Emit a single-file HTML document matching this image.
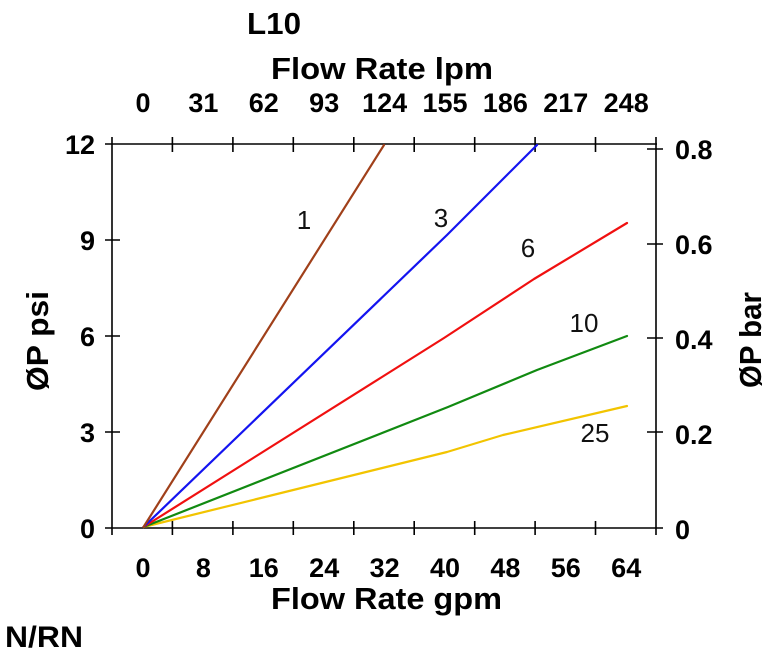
<!DOCTYPE html>
<html><head><meta charset="utf-8"><style>
html,body{margin:0;padding:0;background:#fff;}
svg{display:block;}
text{font-family:"Liberation Sans",Arial,sans-serif;}
.b{font-weight:bold;fill:#000;}
</style></head><body>
<svg width="778" height="648" viewBox="0 0 778 648" xmlns="http://www.w3.org/2000/svg">
<rect width="778" height="648" fill="#fff"/>
<!-- titles -->
<text class="b" x="247" y="34" font-size="31" textLength="54" lengthAdjust="spacingAndGlyphs">L10</text>
<text class="b" x="271" y="79" font-size="31" textLength="222" lengthAdjust="spacingAndGlyphs">Flow Rate lpm</text>
<!-- top tick labels -->
<g font-size="27" text-anchor="middle">
<text x="143" y="112" class="b">0</text>
<text x="203.4" y="112" class="b">31</text>
<text x="263.8" y="112" class="b">62</text>
<text x="324.2" y="112" class="b">93</text>
<text x="384.6" y="112" class="b">124</text>
<text x="445" y="112" class="b">155</text>
<text x="505.4" y="112" class="b">186</text>
<text x="565.8" y="112" class="b">217</text>
<text x="626.2" y="112" class="b">248</text>
</g>
<!-- bottom tick labels -->
<g font-size="27" text-anchor="middle">
<text x="143" y="577" class="b">0</text>
<text x="203.4" y="577" class="b">8</text>
<text x="263.8" y="577" class="b">16</text>
<text x="324.2" y="577" class="b">24</text>
<text x="384.6" y="577" class="b">32</text>
<text x="445" y="577" class="b">40</text>
<text x="505.4" y="577" class="b">48</text>
<text x="565.8" y="577" class="b">56</text>
<text x="626.2" y="577" class="b">64</text>
</g>
<text class="b" x="271" y="609" font-size="31" textLength="231" lengthAdjust="spacingAndGlyphs">Flow Rate gpm</text>
<text class="b" x="5" y="647" font-size="30" textLength="78" lengthAdjust="spacingAndGlyphs">N/RN</text>
<!-- left tick labels -->
<g font-size="27" text-anchor="end">
<text x="95" y="154" class="b">12</text>
<text x="95" y="250" class="b">9</text>
<text x="95" y="346" class="b">6</text>
<text x="95" y="442" class="b">3</text>
<text x="95" y="538" class="b">0</text>
</g>
<!-- right tick labels -->
<g font-size="27" text-anchor="start">
<text x="675" y="159" class="b">0.8</text>
<text x="675" y="254" class="b">0.6</text>
<text x="675" y="349" class="b">0.4</text>
<text x="675" y="444" class="b">0.2</text>
<text x="675" y="539" class="b">0</text>
</g>
<!-- axis titles -->
<text class="b" font-size="31" text-anchor="middle" transform="translate(48,341) rotate(-90)" textLength="100" lengthAdjust="spacingAndGlyphs">ØP psi</text>
<text class="b" font-size="31" text-anchor="middle" transform="translate(761,340) rotate(-90)" textLength="96" lengthAdjust="spacingAndGlyphs">ØP bar</text>
<!-- axes -->
<g stroke="#000" stroke-width="1.6" fill="none">
<line x1="105" y1="144" x2="657" y2="144"/>
<line x1="105" y1="528" x2="663" y2="528"/>
<line x1="112" y1="137" x2="112" y2="535"/>
<line x1="656" y1="137" x2="656" y2="535"/>
<path d="M172.4 137V152 M232.9 137V152 M293.3 137V152 M353.8 137V152 M414.2 137V152 M474.7 137V152 M535.1 137V152 M595.5 137V152"/>
<path d="M172.4 521V535 M232.9 521V535 M293.3 521V535 M353.8 521V535 M414.2 521V535 M474.7 521V535 M535.1 521V535 M595.5 521V535"/>
<path d="M105 240H120 M105 336H120 M105 432H120"/>
<path d="M647 149H663 M647 244H663 M647 338H663 M647 432H663"/>
</g>
<!-- curves -->
<g fill="none" stroke-width="2.2" stroke-linejoin="round" stroke-linecap="round">
<polyline stroke="#f2c400" points="143.5,527 447,452 503,435 627,406"/>
<polyline stroke="#118a11" points="143.5,527 448,407 537,370 627,336"/>
<polyline stroke="#f01010" points="143.5,527 444,338 534,279 627,223"/>
<polyline stroke="#1414f0" points="143.5,527 447,235 537,145"/>
<polyline stroke="#a0401a" points="143.5,527 384,145"/>
</g>
<!-- curve labels -->
<g font-size="26" fill="#111" text-anchor="middle">
<text x="304" y="229">1</text>
<text x="441" y="227">3</text>
<text x="528" y="257">6</text>
<text x="584" y="332">10</text>
<text x="595" y="442">25</text>
</g>
</svg>
</body></html>
